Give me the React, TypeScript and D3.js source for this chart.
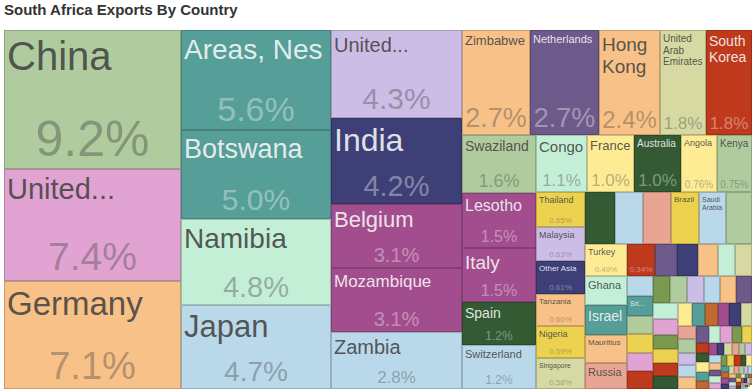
import React, { useMemo } from 'react';
import * as d3 from 'd3';

const WIDTH = 753;
const HEIGHT = 389;
const TITLE = 'South Africa Exports By Country';

const COUNTRIES = [
  'China', 'United States', 'Germany', 'Areas, Nes', 'Botswana', 'Namibia', 'Japan',
  'United Kingdom', 'India', 'Belgium', 'Mozambique', 'Zambia',
  'Zimbabwe', 'Netherlands', 'Hong Kong', 'United Arab Emirates', 'South Korea',
  'Swaziland', 'Lesotho', 'Italy', 'Spain', 'Switzerland',
  'Congo', 'France', 'Australia', 'Angola', 'Kenya',
  'Thailand', 'Malaysia', 'Other Asia', 'Tanzania', 'Nigeria', 'Singapore',
  'Madagascar', 'Canada', 'Indonesia', 'Brazil', 'Saudi Arabia', 'Pakistan',
  'Turkey', 'Ghana', 'Israel', 'Mauritius', 'Russia',
  'Vietnam', 'Uganda', 'Egypt', 'Ethiopia', 'Poland', 'Sweden',
  'Argentina', 'Sri Lanka', 'Bangladesh', 'Ireland', 'Mexico', 'Portugal', 'Denmark',
  'Gabon', 'Cameroon', 'Qatar', 'Finland', 'Austria', 'Colombia', 'Philippines',
  'Malawi', 'Morocco', 'Greece', 'Kuwait', 'Oman', 'Norway', 'Czech Republic', 'New Zealand', 'Senegal', "Côte d'Ivoire",
  'Peru', 'Chile', 'Jordan', 'Algeria', 'Rwanda', 'Burundi', 'Seychelles', 'Hungary', 'Iran', 'Equatorial Guinea',
  'Lebanon', 'Bahrain', 'Romania', 'Tunisia', 'Venezuela', 'Sudan', 'Liberia', 'Sierra Leone', 'Guinea', 'Benin',
  'Togo', 'Mali', 'Burkina Faso', 'Niger', 'Chad', 'Djibouti', 'Comoros', 'Eritrea', 'Somalia', 'Gambia',
  'Cabo Verde', 'Ukraine', 'Bulgaria', 'Croatia', 'Slovenia', 'Slovakia', 'Lithuania', 'Latvia', 'Estonia', 'Luxembourg',
  'Malta', 'Cyprus', 'Iceland', 'Uruguay', 'Paraguay', 'Bolivia', 'Ecuador', 'Panama', 'Costa Rica', 'Guatemala',
  'Honduras', 'Jamaica', 'Trinidad and Tobago', 'Dominican Republic', 'Cuba', 'Haiti', 'Kazakhstan', 'Nepal', 'Myanmar', 'Cambodia',
  'Mongolia', 'Fiji', 'Maldives', 'Brunei', 'Yemen', 'Georgia', 'Armenia', 'Azerbaijan', 'Belarus', 'Laos',
];

// share of total exports, in percent
const SHARES = [
  9.2, 7.4, 7.1, 5.6, 5.0, 4.8, 4.7,
  4.3, 4.2, 3.1, 3.1, 2.8,
  2.7, 2.7, 2.4, 1.8, 1.8,
  1.6, 1.5, 1.5, 1.2, 1.2,
  1.1, 1.0, 1.0, 0.76, 0.75,
  0.65, 0.63, 0.61, 0.60, 0.59, 0.58,
  0.56, 0.55, 0.54, 0.53, 0.52, 0.51,
  0.49, 0.45, 0.45, 0.43, 0.40,
  0.34, 0.27, 0.26, 0.24, 0.21, 0.20,
  0.19, 0.19, 0.18, 0.18, 0.18, 0.17, 0.17,
  0.17, 0.17, 0.16, 0.16, 0.16, 0.15, 0.15,
  0.14, 0.13, 0.13, 0.12, 0.12, 0.11, 0.11, 0.10, 0.10, 0.095,
  0.09, 0.09, 0.085, 0.08, 0.08, 0.075, 0.07, 0.07, 0.065, 0.06,
  0.048, 0.046, 0.044, 0.042, 0.04, 0.038, 0.036, 0.035, 0.034, 0.033,
  0.032, 0.031, 0.03, 0.029, 0.028, 0.027, 0.026, 0.025, 0.024, 0.022,
  0.021, 0.02, 0.019, 0.018, 0.017, 0.016, 0.015, 0.014, 0.013, 0.012,
  0.011, 0.01, 0.0095, 0.009, 0.0085, 0.008, 0.0075, 0.007, 0.0065, 0.006,
  0.0055, 0.005, 0.0045, 0.004, 0.0038, 0.0035, 0.003, 0.0028, 0.0025, 0.0022,
  0.002, 0.0018, 0.0016, 0.0014, 0.0012, 0.001, 0.0009, 0.0008, 0.0006, 0.0005,
];

// ---- styles (kept apart from the data) ----
const PALETTE: Record<string, string> = {
  sage: '#b0cc9f', pink: '#e0a3d2', orange: '#f7c187', teal: '#569e98', mint: '#c3efd6',
  lblue: '#b9d8ea', lav: '#ccbde6', navy: '#3d3f76', mag: '#a24e8e', purple: '#6e598b',
  khaki: '#d6d9a1', red: '#bf3a1c', lyel: '#feec95', dgreen: '#335a33', yel: '#ecd24f',
  salmon: '#e8a594', olive: '#7b9a50', brown: '#c06a30',
};
const COLOR_OF: Record<string, string> = {
  China: 'sage', 'United States': 'pink', Germany: 'orange', 'Areas, Nes': 'teal', Botswana: 'teal',
  Namibia: 'mint', Japan: 'lblue', 'United Kingdom': 'lav', India: 'navy', Belgium: 'mag',
  Mozambique: 'mag', Zambia: 'lblue', Zimbabwe: 'orange', Netherlands: 'purple', 'Hong Kong': 'orange',
  'United Arab Emirates': 'khaki', 'South Korea': 'red', Swaziland: 'sage', Lesotho: 'mag', Italy: 'mag',
  Spain: 'dgreen', Switzerland: 'lblue', Congo: 'mint', France: 'lyel', Australia: 'dgreen',
  Angola: 'lyel', Kenya: 'sage', Thailand: 'yel', Malaysia: 'lav', 'Other Asia': 'navy',
  Tanzania: 'orange', Nigeria: 'yel', Singapore: 'khaki', Madagascar: 'dgreen', Canada: 'lblue',
  Indonesia: 'salmon', Brazil: 'yel', 'Saudi Arabia': 'lblue', Pakistan: 'sage', Turkey: 'lyel',
  Ghana: 'mint', Israel: 'teal', Mauritius: 'orange', Russia: 'salmon', Vietnam: 'red',
  Uganda: 'purple', Egypt: 'navy', Ethiopia: 'orange', Poland: 'mint', Sweden: 'khaki',
  Argentina: 'lblue', 'Sri Lanka': 'teal', Bangladesh: 'sage', Ireland: 'yel', Mexico: 'pink',
  Portugal: 'red', Denmark: 'olive',
};
const CYCLE = ['navy', 'khaki', 'salmon', 'sage', 'lav', 'lblue', 'orange', 'purple', 'mint', 'pink',
  'olive', 'yel', 'red', 'dgreen', 'lyel', 'teal', 'brown', 'mag'];

const FONT = '"Liberation Sans", Arial, Helvetica, sans-serif';
const TM_X0 = 4, TM_Y0 = 30, TM_X1 = 752, TM_Y1 = 389;
const PAD = 3;
const MAX_FONT = 40;
const MIN_FONT = 7;

let ctx: CanvasRenderingContext2D | null = null;
function textWidth(text: string, size: number): number {
  if (!ctx) ctx = document.createElement('canvas').getContext('2d');
  if (!ctx) return text.length * size * 0.55;
  ctx.font = `${size}px ${FONT}`;
  return ctx.measureText(text).width;
}

function fmtShare(v: number): string {
  return (v >= 1 ? v.toFixed(1) : v.toFixed(2)) + '%';
}

function textColor(fill: string): string {
  const hsl = d3.hsl(fill);
  return hsl.l < 0.5 ? '#f7f7f7' : '#444444';
}

function layoutLabel(name: string, w: number, h: number, withShare: boolean) {
  const lw = w - 2 * PAD;
  const lh = withShare ? 0.5 * (h - 2 * PAD) : h - 2 * PAD;
  if (lw <= 4 || lh <= 4) return null;
  const words = name.split(/\s+/);
  const widths = words.map((wd) => textWidth(wd, MAX_FONT));
  const maxW = d3.max(widths) as number;
  const areaMod = 1.165 + (lw / lh) * 0.11;
  const textArea = (d3.sum(widths) as number) * MAX_FONT * 1.2 * areaMod;
  const boxArea = lw * lh;
  let size = MAX_FONT;
  if (maxW > lw || textArea > boxArea) {
    const areaRatio = Math.sqrt(boxArea / textArea);
    const widthRatio = lw / maxW;
    size = Math.max(MIN_FONT, Math.floor(MAX_FONT * Math.min(areaRatio, widthRatio)));
  }
  const heightMax = Math.floor(lh * 0.8);
  if (size > heightMax) size = heightMax;
  const longest = words[widths.indexOf(maxW)];
  while (size >= MIN_FONT && textWidth(longest, size) > lw) size -= 1;
  if (size < MIN_FONT) {
    size = MIN_FONT;
    if (textWidth(words[0] + '...', size) > lw || size * 1.1 > lh) return null;
  }
  const lineH = size * 1.15;
  const maxLines = Math.max(1, Math.floor(lh / lineH));
  const lines: string[] = [];
  let cur = '';
  for (const wd of words) {
    const test = cur ? cur + ' ' + wd : wd;
    if (textWidth(test, size) <= lw || !cur) cur = test;
    else {
      lines.push(cur);
      cur = wd;
    }
  }
  if (cur) lines.push(cur);
  let out = lines;
  if (lines.length > maxLines) {
    out = lines.slice(0, maxLines);
    let parts = out[maxLines - 1].split(' ');
    let cand = parts.join(' ') + '...';
    while (textWidth(cand, size) > lw && parts.length > 1) {
      parts = parts.slice(0, -1);
      cand = parts.join(' ') + '...';
    }
    if (textWidth(cand, size) > lw) return null;
    out[maxLines - 1] = cand;
  }
  if (out.some((l) => textWidth(l, size) > lw + 0.5)) return null;
  return { size, lines: out, lineH };
}

type Cell = {
  name: string; value: number; x0: number; y0: number; x1: number; y1: number; fill: string;
};

function CellView({ c }: { c: Cell }) {
  const w = c.x1 - c.x0;
  const h = c.y1 - c.y0;
  const tc = textColor(c.fill);
  const share = fmtShare(c.value);
  const lwid = w - 2 * PAD;
  const byH = 0.4 * (h - 13);
  const byW = lwid > 0 ? lwid / textWidth(share, 1) : 0;
  let shareSize = Math.min(byH, byW);
  let showShare = shareSize >= 7.2;
  let label = layoutLabel(c.name, w, h, showShare);
  if (showShare && byW < byH && byW < 9 && (label || h > 40)) {
    showShare = false;
    label = layoutLabel(c.name, w, h, false);
  }
  shareSize = Math.max(8, Math.floor(shareSize));
  return (
    <g>
      <rect
        x={c.x0 + 0.5}
        y={c.y0 + 0.5}
        width={Math.max(0, w - 1)}
        height={Math.max(0, h - 1)}
        fill={c.fill}
        stroke={d3.color(c.fill)!.darker(0.6).formatHex()}
        strokeWidth={1}
      />
      {label &&
        label.lines.map((ln, i) => (
          <text
            key={i}
            x={c.x0 + PAD}
            y={c.y0 + PAD + label!.size * 0.93 + i * label!.lineH}
            fontSize={label!.size}
            fill={tc}
            fillOpacity={0.9}
          >
            {ln}
          </text>
        ))}
      {showShare && (
        <text
          x={(c.x0 + c.x1) / 2}
          y={c.y1 - 2 - shareSize * 0.22}
          fontSize={shareSize}
          textAnchor="middle"
          fill={tc}
          fillOpacity={0.4}
        >
          {share}
        </text>
      )}
    </g>
  );
}

export default function App() {
  const cells = useMemo<Cell[]>(() => {
    const data = COUNTRIES.map((name, i) => ({ name, value: SHARES[i], idx: i }));
    const root = d3
      .hierarchy<any>({ name: 'root', children: data })
      .sum((d: any) => d.value || 0)
      .sort((a, b) => (b.value as number) - (a.value as number));
    d3.treemap<any>()
      .tile(d3.treemapSquarify)
      .size([TM_X1 - TM_X0, TM_Y1 - TM_Y0])
      .round(true)(root);
    return (root.leaves() as any[]).map((lf) => {
      const key = COLOR_OF[lf.data.name] || CYCLE[lf.data.idx % CYCLE.length];
      return {
        name: lf.data.name,
        value: lf.data.value,
        x0: lf.x0 + TM_X0,
        y0: lf.y0 + TM_Y0,
        x1: lf.x1 + TM_X0,
        y1: lf.y1 + TM_Y0,
        fill: PALETTE[key],
      };
    });
  }, []);

  return (
    <svg
      width={WIDTH}
      height={HEIGHT}
      style={{ position: 'absolute', left: 0, top: 0, background: '#ffffff' }}
      fontFamily={FONT}
    >
      <text x={4} y={15} fontSize={15} fontWeight="bold" fill="#333333">
        {TITLE}
      </text>
      {cells.map((c) => (
        <CellView key={c.name} c={c} />
      ))}
    </svg>
  );
}
